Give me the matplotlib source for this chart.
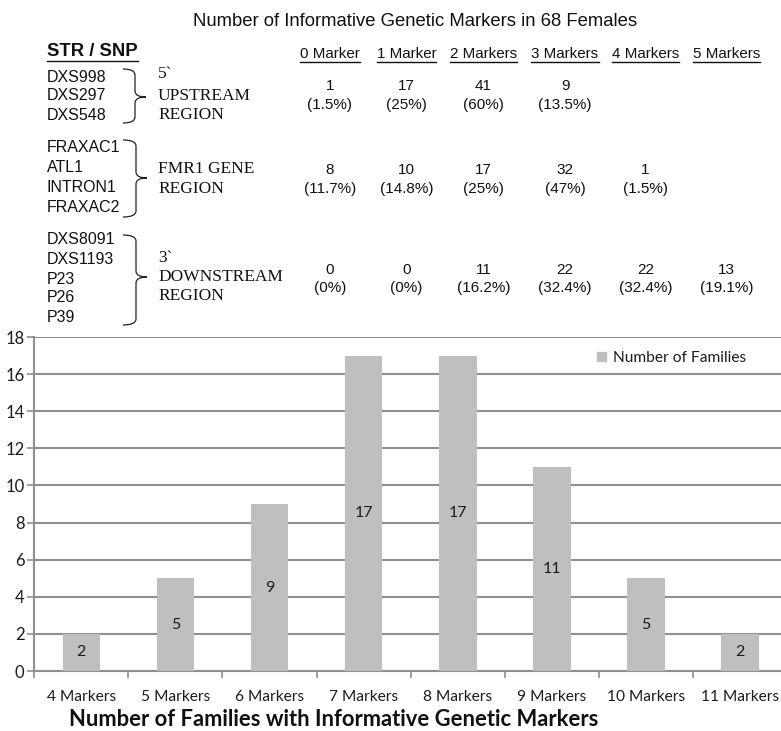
import matplotlib
matplotlib.use("Agg")
import matplotlib.pyplot as plt
import numpy as np
from matplotlib.path import Path
from matplotlib.patches import PathPatch, Rectangle

# ---- data -----------------------------------------------------------------
categories = ["4 Markers", "5 Markers", "6 Markers", "7 Markers",
              "8 Markers", "9 Markers", "10 Markers", "11 Markers"]
families = [2, 5, 9, 17, 17, 11, 5, 2]

marker_columns = ["0 Marker", "1 Marker", "2 Markers",
                  "3 Markers", "4 Markers", "5 Markers"]

upstream_loci = ["DXS998", "DXS297", "DXS548"]
gene_loci = ["FRAXAC1", "ATL1", "INTRON1", "FRAXAC2"]
downstream_loci = ["DXS8091", "DXS1193", "P23", "P26", "P39"]

upstream_region = ["5`", "UPSTREAM", "REGION"]
gene_region = ["FMR1 GENE", "REGION"]
downstream_region = ["3`", "DOWNSTREAM", "REGION"]

upstream_counts = [1, 17, 41, 9]
upstream_pct = ["1.5%", "25%", "60%", "13.5%"]
gene_counts = [8, 10, 17, 32, 1]
gene_pct = ["11.7%", "14.8%", "25%", "47%", "1.5%"]
downstream_counts = [0, 0, 11, 22, 22, 13]
downstream_pct = ["0%", "0%", "16.2%", "32.4%", "32.4%", "19.1%"]

# ---- figure ---------------------------------------------------------------
W, H = 781, 731
fig = plt.figure(figsize=(W / 100, H / 100), dpi=100)
fig.patch.set_facecolor("white")

SANS = ["Liberation Sans", "DejaVu Sans"]
SERIF = ["Liberation Serif", "DejaVu Serif"]
XL = ["Lato", "DejaVu Sans"]

grid_c = "#8f8f8f"
bar_c = "#bfbfbf"
txt_c = "#1c1c1c"

# bar chart
ax = fig.add_axes([34.3 / W, 60 / H, 752.7 / W, 334 / H])
x = np.arange(len(categories))
ax.bar(x, families, width=0.4, color=bar_c, zorder=3, label="Number of Families")
ax.set_xlim(-0.5, len(categories) - 0.5)
ax.set_ylim(0, 18)
ax.set_yticks(np.arange(0, 19, 2))
ax.yaxis.grid(True, color=grid_c, lw=1.5, zorder=0)
for s in ("top", "right"):
    ax.spines[s].set_visible(False)
for s in ("left", "bottom"):
    ax.spines[s].set_color(grid_c)
    ax.spines[s].set_linewidth(1.5)
ax.set_xticks(x)
ax.set_xticklabels(categories, family=XL, fontsize=11.2, color=txt_c)
ax.set_xticks(np.arange(-0.5, len(categories), 1), minor=True)
ax.tick_params(axis="x", which="major", length=0, pad=14)
ax.tick_params(axis="x", which="minor", length=5, width=1.2, color=grid_c)
ax.tick_params(axis="y", length=5, width=1.2, color=grid_c, pad=2)
for lab in ax.get_yticklabels():
    lab.set_fontfamily(XL)
    lab.set_fontsize(12)
    lab.set_color(txt_c)
for xi, v in zip(x, families):
    ax.text(xi, v / 2, str(v), ha="center", va="center", family=XL,
            fontsize=11.5, color=txt_c, zorder=4)

fig.legend(handles=[Rectangle((0, 0), 1, 1, color=bar_c)],
           labels=["Number of Families"], loc="center left",
           bbox_to_anchor=(597 / W, 1 - 358 / H), frameon=False,
           handlelength=0.55, handleheight=0.55, handletextpad=0.45,
           borderpad=0, borderaxespad=0,
           prop={"family": XL, "size": 11.2})
for t in fig.legends[0].get_texts():
    t.set_color(txt_c)

fig.text(334 / W, 1 - 726 / H,
         "Number of Families with Informative Genetic Markers",
         ha="center", va="baseline", family=XL, fontweight="bold",
         fontsize=15.8, color="#111111")

# ---- upper table, drawn in pixel coordinates ------------------------------
ov = fig.add_axes([0, 0, 1, 1])
ov.set_xlim(0, W)
ov.set_ylim(H, 0)
ov.axis("off")
ov.patch.set_alpha(0)

ov.text(415, 21, "Number of Informative Genetic Markers in 68 Females",
        ha="center", va="center", family=SANS, fontsize=13.3, color="#111")

underlined = []
underlined.append(ov.text(47, 51, "STR / SNP", ha="left", va="center",
                          family=SANS, fontsize=13.3, fontweight="bold",
                          color="#111"))
col_x = [330, 406.5, 483.5, 565, 645.5, 726.5]
for cx, name in zip(col_x, marker_columns):
    underlined.append(ov.text(cx, 54, name, ha="center", va="center",
                              family=SANS, fontsize=10.9, color="#111"))


def loci_block(names, ys):
    for n, y in zip(names, ys):
        ov.text(47, y, n, ha="left", va="center", family=SANS,
                fontsize=11.5, color="#111")


def region_block(lines, ys):
    for n, y in zip(lines, ys):
        ov.text(158, y, n, ha="left", va="center", family=SERIF,
                fontsize=12.5, color="#111")


def value_block(counts, pcts, y_num, y_pct):
    for cx, c, p in zip(col_x, counts, pcts):
        ov.text(cx, y_num, str(c), ha="center", va="center", family=SANS,
                fontsize=11, color="#111")
        ov.text(cx, y_pct, "(" + p + ")", ha="center", va="center",
                family=SANS, fontsize=11, color="#111")


def brace(x_left, x_spine, x_tip, y_top, y_tip, y_bot, r=6):
    verts = [(x_left, y_top), (x_spine, y_top), (x_spine, y_top + r),
             (x_spine, y_tip - r), (x_spine, y_tip), (x_tip, y_tip),
             (x_spine, y_tip), (x_spine, y_tip + r),
             (x_spine, y_bot - r), (x_spine, y_bot), (x_left, y_bot)]
    codes = [Path.MOVETO, Path.CURVE3, Path.CURVE3,
             Path.LINETO, Path.CURVE3, Path.CURVE3,
             Path.CURVE3, Path.CURVE3,
             Path.LINETO, Path.CURVE3, Path.CURVE3]
    ov.add_patch(PathPatch(Path(verts, codes), fill=False, lw=0.9,
                           edgecolor="#222"))


loci_block(upstream_loci, [77, 96, 115])
loci_block(gene_loci, [148, 168, 188, 208])
loci_block(downstream_loci, [240, 259, 279, 298, 318])

region_block(upstream_region, [74, 96, 115])
region_block(gene_region, [169, 189])
region_block(downstream_region, [258, 277, 296])

value_block(upstream_counts, upstream_pct, 86, 105)
value_block(gene_counts, gene_pct, 170, 189)
value_block(downstream_counts, downstream_pct, 270, 288)

brace(123, 135, 146, 69, 97, 123)
brace(123, 136, 147, 140, 178, 217)
brace(123, 136, 147, 235, 277, 325)

# underline the headers
fig.canvas.draw()
rend = fig.canvas.get_renderer()
for t in underlined:
    bb = t.get_window_extent(rend)
    yl = H - bb.y0 + 1
    ov.plot([bb.x0, bb.x1], [yl, yl], color="#111", lw=1.0)

fig.savefig("out.png", dpi=100, facecolor="white")
